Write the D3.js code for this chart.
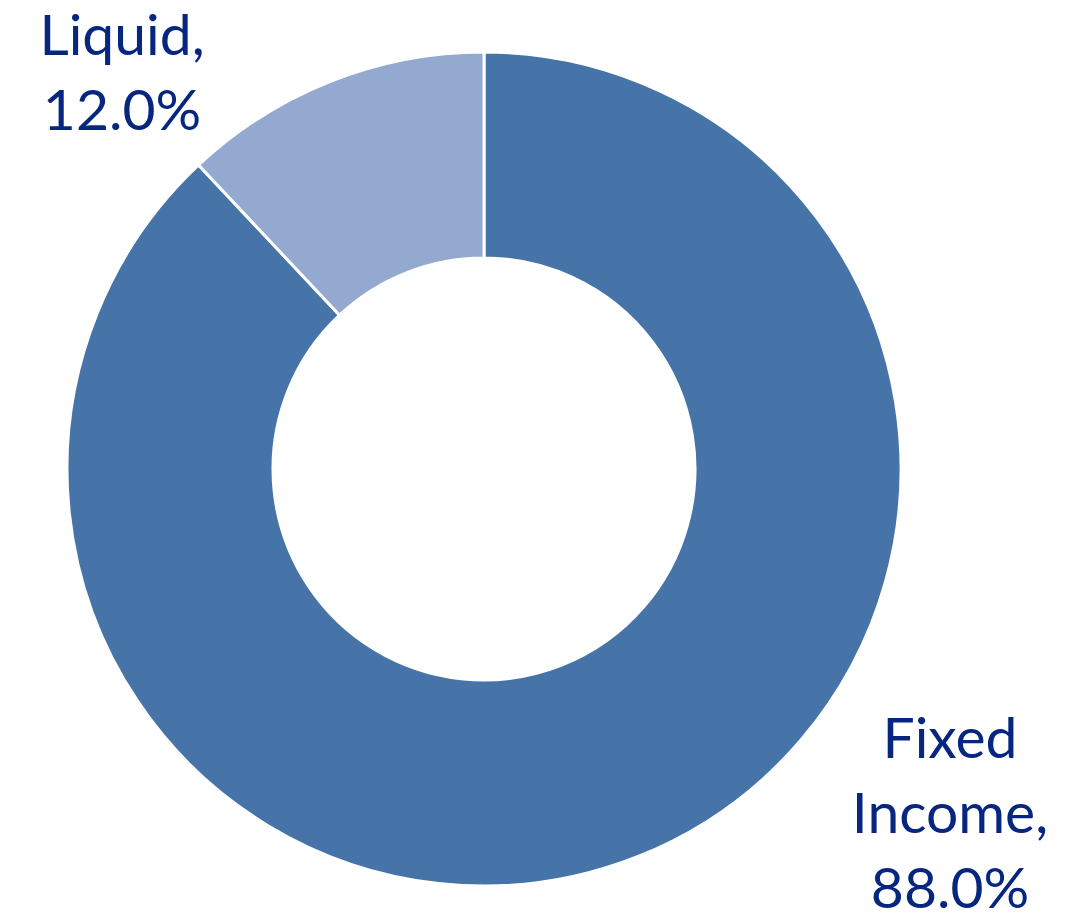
<!DOCTYPE html>
<html>
<head>
<meta charset="utf-8">
<script src="https://cdn.jsdelivr.net/npm/d3@7"></script>
<style>
  html, body { margin: 0; padding: 0; background: #fff; }
  #chart { width: 1080px; height: 920px; }
</style>
</head>
<body>
<div id="chart"></div>
<script>
// data
const categories = ['Fixed Income', 'Liquid'];
const shares = [88.0, 12.0];
const labelLines = [['Fixed', 'Income,', '88.0%'], ['Liquid,', '12.0%']];

const colors = ['#4674a8', '#94a9cf'];

const width = 1080;
const height = 920;
const cx = 484, cy = 469;
const outerR = 417, innerR = 211;

// label anchors (center x, first baseline y), picked to match the Excel layout
const labelPos = [{ x: 950, y: 758 }, { x: 122, y: 55 }];

const svg = d3.select('#chart').append('svg')
  .attr('width', width)
  .attr('height', height)
  .attr('viewBox', '0 0 ' + width + ' ' + height);

const g = svg.append('g')
  .attr('transform', 'translate(' + cx + ',' + cy + ')');

const pie = d3.pie()
  .value(function(d) { return d; })
  .sort(null);

const arc = d3.arc()
  .innerRadius(innerR)
  .outerRadius(outerR);

g.selectAll('path')
  .data(pie(shares))
  .enter().append('path')
  .attr('fill', function(d, i) { return colors[i]; })
  .attr('stroke', '#fff')
  .attr('stroke-width', 3)
  .attr('d', arc);

const labels = svg.selectAll('text.lbl')
  .data(categories)
  .enter().append('text')
  .attr('class', 'lbl')
  .attr('text-anchor', 'middle')
  .attr('font-family', 'Lato, "Open Sans", sans-serif')
  .attr('font-size', 57)
  .attr('fill', '#062680');

labels.each(function(d, i) {
  const t = d3.select(this);
  labelLines[i].forEach(function(line, j) {
    t.append('tspan')
      .attr('x', labelPos[i].x)
      .attr('y', labelPos[i].y + j * 75)
      .text(line);
  });
});
</script>
</body>
</html>
